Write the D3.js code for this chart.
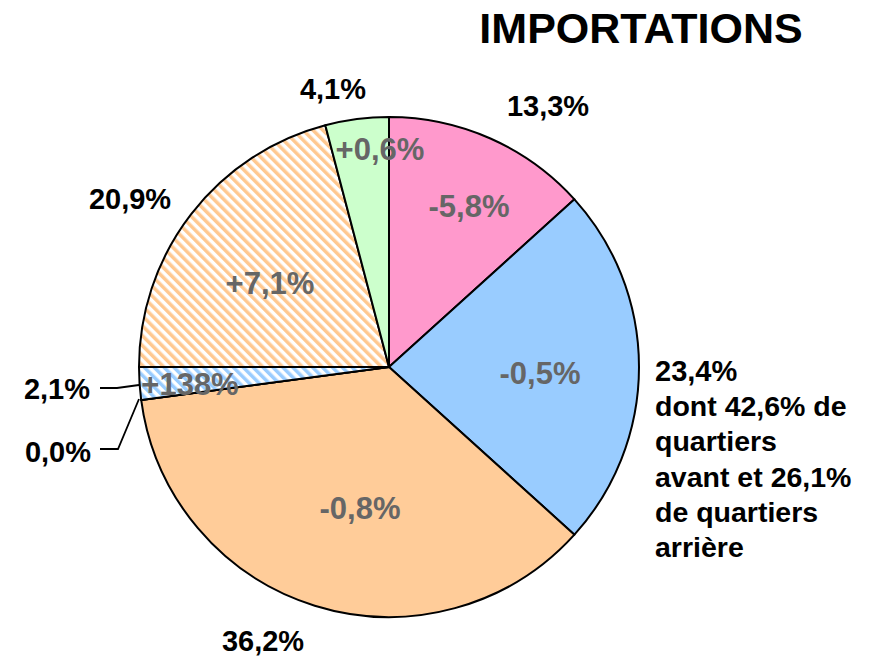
<!DOCTYPE html>
<html>
<head>
<meta charset="utf-8">
<script src="https://cdn.jsdelivr.net/npm/d3@7"></script>
<style>
  body { margin: 0; background: #fff; }
  text { font-family: "Liberation Sans", Arial, sans-serif; font-weight: bold; }
</style>
</head>
<body>
<svg id="drawing_region"></svg>
<script>
// slices, clockwise from 12 o'clock
var shareLabels = ['13,3%', '23,4%', '36,2%', '0,0%', '2,1%', '20,9%', '4,1%'];
var shares = [13.3, 23.4, 36.2, 0.0, 2.1, 20.9, 4.1];
var changes = ['-5,8%', '-0,5%', '-0,8%', '', '+138%', '+7,1%', '+0,6%'];
var fills = ['#FF99CC', '#99CCFF', '#FFCC99', '#FFFFFF', 'url(#hatchBlue)', 'url(#hatchOrange)', '#CCFFCC'];
var detailLines = ['dont 42,6% de', 'quartiers', 'avant et 26,1%', 'de quartiers', 'arrière'];
var title = 'IMPORTATIONS';

var config = {
  width: 874, height: 662,
  cx: 389, cy: 367, radius: 250
};

// label anchors (layout only)
var outerPos = [[548, 116], [655, 381], [263, 651], [58, 462], [57, 399], [130, 209], [333, 99]];
var outerAnchor = ['middle', 'start', 'middle', 'middle', 'middle', 'middle', 'middle'];
var innerPos = [[469, 217], [540, 384], [360, 519], null, [190, 395], [270, 294], [380, 160]];
var leaders = [
  [[100, 388], [117, 388], [139, 385]],
  [[100, 449], [118, 449], [139, 399]]
];

var svg = d3.select('#drawing_region')
  .attr('width', config.width)
  .attr('height', config.height);

var defs = svg.append('defs');
function hatch(id, color) {
  var p = defs.append('pattern')
    .attr('id', id)
    .attr('patternUnits', 'userSpaceOnUse')
    .attr('width', 7).attr('height', 7)
    .attr('patternTransform', 'rotate(-45)');
  p.append('rect').attr('width', 7).attr('height', 7).attr('fill', '#fff');
  p.append('rect').attr('width', 3.5).attr('height', 7).attr('fill', color);
}
hatch('hatchBlue', '#99CCFF');
hatch('hatchOrange', '#FFC890');

var pie = d3.pie().sort(null).value(d => d);
var arcs = pie(shares);
var arc = d3.arc().innerRadius(0).outerRadius(config.radius);

var chart = svg.append('g')
  .attr('transform', `translate(${config.cx}, ${config.cy})`);

chart.selectAll('path')
  .data(arcs)
  .join('path')
  .attr('d', arc)
  .attr('fill', (d, i) => fills[i])
  .attr('stroke', '#000')
  .attr('stroke-width', 2)
  .attr('stroke-linejoin', 'round');

// leader lines
svg.selectAll('polyline.leader')
  .data(leaders)
  .join('polyline')
  .attr('class', 'leader')
  .attr('points', d => d.map(p => p.join(',')).join(' '))
  .attr('fill', 'none')
  .attr('stroke', '#000')
  .attr('stroke-width', 1.8);

// inner change labels
var innerData = changes.map((t, i) => ({text: t, pos: innerPos[i]})).filter(d => d.pos);
svg.selectAll('text.inner')
  .data(innerData)
  .join('text')
  .attr('class', 'inner')
  .attr('x', d => d.pos[0])
  .attr('y', d => d.pos[1])
  .attr('text-anchor', 'middle')
  .attr('fill', '#666666')
  .attr('font-size', 31)
  .text(d => d.text);

// outer share labels
svg.selectAll('text.outer')
  .data(shareLabels)
  .join('text')
  .attr('class', 'outer')
  .attr('x', (d, i) => outerPos[i][0])
  .attr('y', (d, i) => outerPos[i][1])
  .attr('text-anchor', (d, i) => outerAnchor[i])
  .attr('fill', '#000')
  .attr('font-size', 29)
  .text(d => d);

svg.selectAll('text.detail')
  .data(detailLines)
  .join('text')
  .attr('class', 'detail')
  .attr('x', 655)
  .attr('y', (d, i) => 381 + 35.2 * (i + 1))
  .attr('fill', '#000')
  .attr('font-size', 28.5)
  .text(d => d);

svg.append('text')
  .attr('x', 641)
  .attr('y', 43)
  .attr('text-anchor', 'middle')
  .attr('font-size', 43)
  .attr('fill', '#000')
  .text(title);
</script>
</body>
</html>
